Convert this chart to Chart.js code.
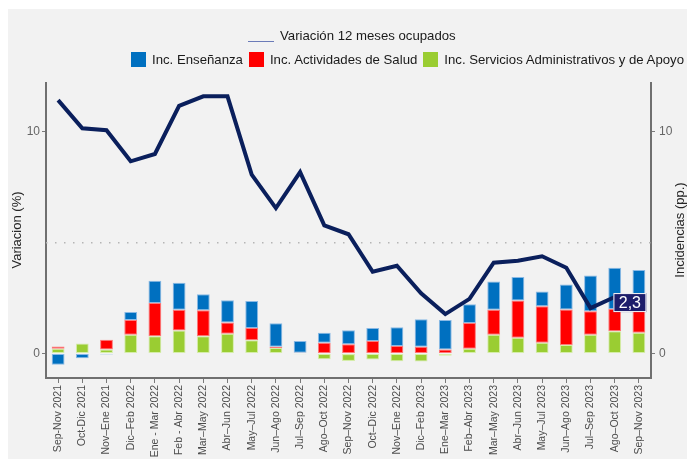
<!DOCTYPE html>
<html>
<head>
<meta charset="utf-8">
<script src="https://cdn.jsdelivr.net/npm/chart.js@4.4.0/dist/chart.umd.min.js"></script>
<style>
  body { margin: 0; background: #fff; font-family: "Liberation Sans", Arial, sans-serif; }
  #wrap { position: absolute; left: 8px; top: 9px; width: 679px; height: 450px; background: #f2f2f2; }
  #chart { position: absolute; left: 0; top: 0; }
  .legend { position: absolute; font-size: 13.2px; color: #1a1a1a; line-height: 16px; white-space: nowrap; }
  .legend .item { display: inline-block; margin-left: 6px; }
  .legend .box { display: inline-block; width: 15px; height: 15px; vertical-align: -3px; margin-right: 6px; }
  .legend .ln { display: inline-block; width: 26px; height: 0; border-bottom: 1.5px solid #6b7bb8; vertical-align: -2px; margin-right: 6px; }
</style>
</head>
<body>
<div id="wrap">
  <canvas id="chart" width="679" height="450"></canvas>
  <div class="legend" id="legLine" style="left:240px; top:19px;"><span class="ln"></span>Variación 12 meses ocupados</div>
  <div class="legend" id="legBars" style="right:3px; top:43px;"></div>
</div>
<script>
// Periodos (trimestres móviles)
const categories = [
  'Sep-Nov 2021', 'Oct-Dic 2021', 'Nov–Ene 2021', 'Dic–Feb 2022', 'Ene - Mar 2022',
  'Feb - Abr 2022', 'Mar–May 2022', 'Abr–Jun 2022', 'May–Jul 2022', 'Jun–Ago 2022',
  'Jul–Sep 2022', 'Ago–Oct 2022', 'Sep–Nov 2022', 'Oct–Dic 2022', 'Nov–Ene 2022',
  'Dic–Feb 2023', 'Ene–Mar 2023', 'Feb–Abr 2023', 'Mar–May 2023', 'Abr–Jun 2023',
  'May–Jul 2023', 'Jun–Ago 2023', 'Jul–Sep 2023', 'Ago–Oct 2023', 'Sep–Nov 2023'
];

// Variación 12 meses ocupados (%)
const variacion = [11.43, 10.16, 10.07, 8.67, 9.0, 11.17, 11.6, 11.6, 8.07, 6.56,
  8.18, 5.78, 5.38, 3.69, 3.96, 2.72, 1.78, 2.47, 4.1, 4.19, 4.39, 3.87, 2.05, 2.55, 2.3];

// Incidencias (pp.)
const incServicios = [0.22, 0.45, 0.19, 0.85, 0.78, 1.04, 0.78, 0.9, 0.6, 0.25,
  -0.03, -0.25, -0.33, -0.27, -0.34, -0.36, -0.1, 0.22, 0.85, 0.72, 0.49, 0.39, 0.85, 1.01, 0.94];
const incSalud = [0.1, -0.02, 0.43, 0.66, 1.5, 0.94, 1.18, 0.5, 0.55, 0.06,
  0.04, 0.49, 0.42, 0.57, 0.34, 0.31, 0.19, 1.16, 1.13, 1.67, 1.64, 1.6, 1.06, 1.0, 0.99];
const incEnsenanza = [-0.5, -0.19, -0.04, 0.36, 1.0, 1.21, 0.72, 1.01, 1.22, 1.06,
  0.53, 0.45, 0.63, 0.58, 0.85, 1.24, 1.33, 0.84, 1.27, 1.06, 0.67, 1.12, 1.61, 1.86, 1.84];

const yTicks = [0, 10];
const refLine = 5;

const FONT = '"Liberation Sans", Arial, sans-serif';
const colors = { ens: '#0070c0', sal: '#ff0000', ser: '#9acd32', line: '#0a1f5c' };

// HTML legend for the bar series
const legendItems = [
  ['Inc. Enseñanza', colors.ens],
  ['Inc. Actividades de Salud', colors.sal],
  ['Inc. Servicios Administrativos y de Apoyo', colors.ser]
];
document.getElementById('legBars').innerHTML = legendItems
  .map(([t, c]) => `<span class="item"><span class="box" style="background:${c}"></span>${t}</span>`)
  .join('');

// dotted reference line at 5
const refLinePlugin = {
  id: 'refLine',
  beforeDatasetsDraw(chart) {
    const { ctx, chartArea } = chart;
    const y = chart.scales.y.getPixelForValue(refLine);
    ctx.save();
    ctx.strokeStyle = '#b5b5b5';
    ctx.lineWidth = 1.5;
    ctx.setLineDash([1.5, 7.5]);
    ctx.beginPath();
    ctx.moveTo(chartArea.left, y);
    ctx.lineTo(chartArea.right, y);
    ctx.stroke();
    ctx.restore();
  }
};

// axis titles (both read bottom to top)
const titlesPlugin = {
  id: 'titles',
  afterDraw(chart) {
    const { ctx } = chart;
    const draw = (text, x, y) => {
      ctx.save();
      ctx.translate(x, y);
      ctx.rotate(-Math.PI / 2);
      ctx.font = '13px ' + FONT;
      ctx.fillStyle = '#262626';
      ctx.textAlign = 'center';
      ctx.textBaseline = 'middle';
      ctx.fillText(text, 0, 0);
      ctx.restore();
    };
    draw('Variacion (%)', 9, 221);
    draw('Incidencias (pp.)', 672, 221);
  }
};

// value label on the last point of the line
const lastLabelPlugin = {
  id: 'lastLabel',
  afterDatasetsDraw(chart) {
    const { ctx } = chart;
    const meta = chart.getDatasetMeta(3);
    const i = variacion.length - 1;
    const pt = meta.data[i];
    const text = variacion[i].toFixed(1).replace('.', ',');
    const w = 33, h = 19;
    const x = pt.x - 9 - w / 2, y = pt.y - h / 2;
    ctx.save();
    ctx.fillStyle = '#1d1d6b';
    ctx.strokeStyle = '#ffffff';
    ctx.lineWidth = 1;
    ctx.fillRect(x, y, w, h);
    ctx.strokeRect(x + 0.5, y + 0.5, w - 1, h - 1);
    ctx.font = '16px ' + FONT;
    ctx.fillStyle = '#ffffff';
    ctx.textAlign = 'center';
    ctx.textBaseline = 'middle';
    ctx.fillText(text, x + w / 2, y + h / 2 + 1);
    ctx.restore();
  }
};

const barDefaults = {
  type: 'bar',
  stack: 'inc',
  yAxisID: 'y',
  order: 1,
  borderWidth: 1,
  borderSkipped: false,
  barPercentage: 0.53,
  categoryPercentage: 1
};

const yScaleBase = {
  stacked: true,
  min: -1.1,
  max: 12.2,
  afterBuildTicks(scale) { scale.ticks = yTicks.map(v => ({ value: v })); },
  grid: { display: true, drawOnChartArea: false, drawTicks: true, tickLength: 4, color: '#7a7a7a' },
  border: { display: true, color: '#707070', width: 2 },
  ticks: { color: '#666', font: { size: 12, family: FONT }, padding: 2 }
};

new Chart(document.getElementById('chart'), {
  data: {
    labels: categories,
    datasets: [
      { ...barDefaults, label: 'Inc. Servicios Administrativos y de Apoyo', data: incServicios,
        backgroundColor: colors.ser, borderColor: 'rgba(205,235,150,0.8)' },
      { ...barDefaults, label: 'Inc. Actividades de Salud', data: incSalud,
        backgroundColor: colors.sal, borderColor: 'rgba(255,90,90,0.8)' },
      { ...barDefaults, label: 'Inc. Enseñanza', data: incEnsenanza,
        backgroundColor: colors.ens, borderColor: 'rgba(110,170,225,0.8)' },
      { type: 'line', label: 'Variación 12 meses ocupados', data: variacion, stack: 'line',
        yAxisID: 'y', order: 0, borderColor: colors.line, borderWidth: 4,
        pointRadius: 0, tension: 0, fill: false, borderJoinStyle: 'miter' }
    ]
  },
  options: {
    responsive: false,
    animation: false,
    layout: { padding: { top: 74, left: 0, right: 0, bottom: 0 } },
    plugins: { legend: { display: false }, tooltip: { enabled: false } },
    scales: {
      x: {
        stacked: true,
        afterFit(scale) { scale.height = 81; },
        grid: { display: true, drawOnChartArea: false, offset: false, tickLength: 5, color: '#7a7a7a' },
        border: { display: true, color: '#707070', width: 2 },
        ticks: { autoSkip: false, minRotation: 90, maxRotation: 90, padding: 2,
          color: '#4d4d4d', font: { size: 10.5, family: FONT } }
      },
      y: { ...yScaleBase, position: 'left', afterFit(scale) { scale.width = 38; } },
      y2: { ...yScaleBase, position: 'right', afterFit(scale) { scale.width = 36; },
        ticks: { ...yScaleBase.ticks, padding: 4 } }
    }
  },
  plugins: [refLinePlugin, titlesPlugin, lastLabelPlugin]
});
</script>
</body>
</html>
